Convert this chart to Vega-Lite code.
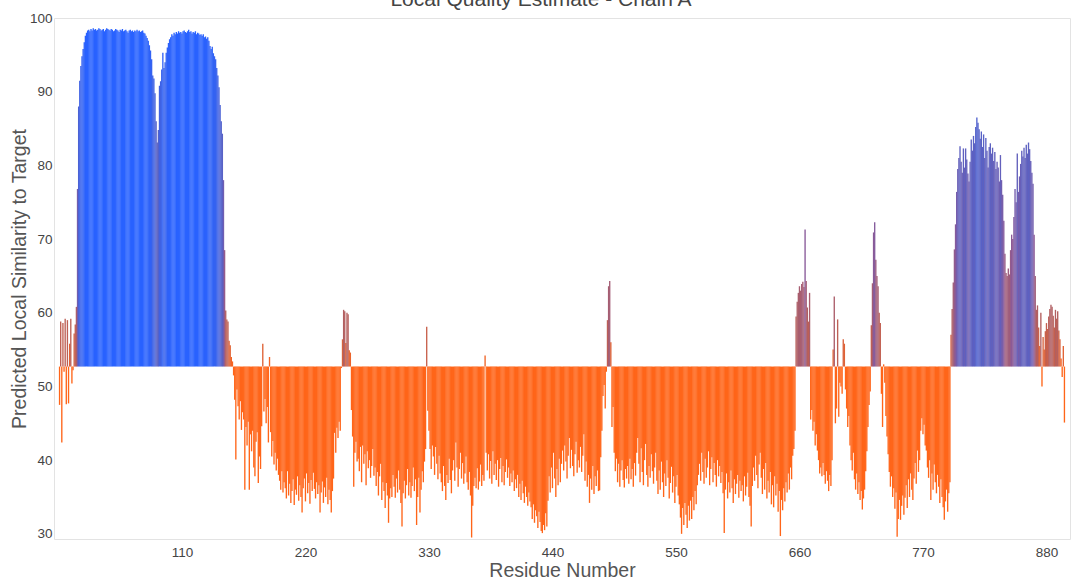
{
"$schema": "https://vega.github.io/schema/vega-lite/v6.json",
"width": 1016, "height": 521,
"autosize": {"type": "none"},
"padding": {"left": 54, "top": 18, "right": 2, "bottom": 42},
"background": "white",
"title": {"text": "Local Quality Estimate - Chain A", "fontSize": 21, "font": "Liberation Sans", "fontWeight": "normal", "color": "#444", "offset": 4, "dx": -21, "dy": 3},
"config": {"view": {"stroke": "#e3e3e3", "strokeWidth": 1}, "font": "Liberation Sans"},
"data": {"values": [
{"r":1,"v":47.5},{"r":2,"v":58.8},{"r":3,"v":42.4},{"r":4,"v":58.6},{"r":5,"v":52.0},{"r":6,"v":59.2},{"r":7,"v":47.6},{"r":8,"v":59.0},{"r":9,"v":47.7},{"r":10,"v":55.8},
{"r":11,"v":59.2},{"r":12,"v":50.4},{"r":13,"v":52.2},{"r":14,"v":57.2},{"r":15,"v":58.4},{"r":16,"v":60.8},{"r":17,"v":76.8},{"r":18,"v":88.0},{"r":19,"v":91.5},{"r":20,"v":93.5},
{"r":21,"v":94.8},{"r":22,"v":95.8},{"r":23,"v":96.7},{"r":24,"v":97.6},{"r":25,"v":98.0},{"r":26,"v":98.3},{"r":27,"v":98.4},{"r":28,"v":98.2},{"r":29,"v":98.5},{"r":30,"v":98.3},
{"r":31,"v":98.6},{"r":32,"v":98.4},{"r":33,"v":98.5},{"r":34,"v":98.3},{"r":35,"v":98.4},{"r":36,"v":98.6},{"r":37,"v":98.5},{"r":38,"v":98.3},{"r":39,"v":98.4},{"r":40,"v":98.5},
{"r":41,"v":98.2},{"r":42,"v":98.4},{"r":43,"v":98.6},{"r":44,"v":98.5},{"r":45,"v":98.4},{"r":46,"v":98.3},{"r":47,"v":98.5},{"r":48,"v":98.4},{"r":49,"v":98.2},{"r":50,"v":98.3},
{"r":51,"v":98.5},{"r":52,"v":98.4},{"r":53,"v":98.3},{"r":54,"v":98.1},{"r":55,"v":98.4},{"r":56,"v":98.3},{"r":57,"v":98.5},{"r":58,"v":98.2},{"r":59,"v":98.3},{"r":60,"v":98.4},
{"r":61,"v":98.2},{"r":62,"v":98.0},{"r":63,"v":98.3},{"r":64,"v":98.4},{"r":65,"v":98.2},{"r":66,"v":98.3},{"r":67,"v":98.1},{"r":68,"v":98.3},{"r":69,"v":98.2},{"r":70,"v":98.4},
{"r":71,"v":98.2},{"r":72,"v":98.3},{"r":73,"v":98.1},{"r":74,"v":98.2},{"r":75,"v":98.3},{"r":76,"v":98.0},{"r":77,"v":97.9},{"r":78,"v":97.6},{"r":79,"v":97.3},{"r":80,"v":96.9},
{"r":81,"v":96.3},{"r":82,"v":95.6},{"r":83,"v":94.4},{"r":84,"v":92.2},{"r":85,"v":91.8},{"r":86,"v":89.8},{"r":87,"v":86.0},{"r":88,"v":83.1},{"r":89,"v":84.8},{"r":90,"v":90.8},
{"r":91,"v":91.4},{"r":92,"v":93.0},{"r":93,"v":95.3},{"r":94,"v":93.2},{"r":95,"v":94.0},{"r":96,"v":95.3},{"r":97,"v":96.0},{"r":98,"v":96.6},{"r":99,"v":97.1},{"r":100,"v":97.4},
{"r":101,"v":97.8},{"r":102,"v":97.6},{"r":103,"v":98.0},{"r":104,"v":97.8},{"r":105,"v":98.1},{"r":106,"v":97.9},{"r":107,"v":98.2},{"r":108,"v":98.0},{"r":109,"v":98.1},{"r":110,"v":97.9},
{"r":111,"v":98.2},{"r":112,"v":98.3},{"r":113,"v":98.1},{"r":114,"v":98.0},{"r":115,"v":98.2},{"r":116,"v":98.4},{"r":117,"v":98.1},{"r":118,"v":98.2},{"r":119,"v":97.9},{"r":120,"v":98.1},
{"r":121,"v":98.0},{"r":122,"v":98.2},{"r":123,"v":97.8},{"r":124,"v":98.0},{"r":125,"v":97.9},{"r":126,"v":97.7},{"r":127,"v":97.8},{"r":128,"v":97.6},{"r":129,"v":97.8},{"r":130,"v":97.4},
{"r":131,"v":97.5},{"r":132,"v":97.2},{"r":133,"v":97.4},{"r":134,"v":96.9},{"r":135,"v":96.2},{"r":136,"v":95.8},{"r":137,"v":96.1},{"r":138,"v":95.2},{"r":139,"v":94.8},{"r":140,"v":94.4},
{"r":141,"v":93.2},{"r":142,"v":92.2},{"r":143,"v":90.6},{"r":144,"v":88.2},{"r":145,"v":86.0},{"r":146,"v":84.3},{"r":147,"v":78.0},{"r":148,"v":68.5},{"r":149,"v":60.3},{"r":150,"v":59.1},
{"r":151,"v":58.8},{"r":152,"v":56.2},{"r":153,"v":55.6},{"r":154,"v":54.0},{"r":155,"v":53.4},{"r":156,"v":51.5},{"r":157,"v":48.2},{"r":158,"v":40.1},{"r":159,"v":49.6},{"r":160,"v":47.3},
{"r":161,"v":45.5},{"r":162,"v":48.0},{"r":163,"v":44.1},{"r":164,"v":46.5},{"r":165,"v":45.5},{"r":166,"v":36.0},{"r":167,"v":44.5},{"r":168,"v":42.0},{"r":169,"v":45.2},{"r":170,"v":36.0},
{"r":171,"v":43.5},{"r":172,"v":41.2},{"r":173,"v":44.0},{"r":174,"v":39.0},{"r":175,"v":37.8},{"r":176,"v":42.5},{"r":177,"v":43.8},{"r":178,"v":36.9},{"r":179,"v":40.5},{"r":180,"v":38.8},
{"r":181,"v":44.6},{"r":182,"v":55.8},{"r":183,"v":46.6},{"r":184,"v":48.3},{"r":185,"v":45.0},{"r":186,"v":47.2},{"r":187,"v":42.4},{"r":188,"v":54.0},{"r":189,"v":43.8},{"r":190,"v":40.5},
{"r":191,"v":42.6},{"r":192,"v":39.4},{"r":193,"v":41.0},{"r":194,"v":38.6},{"r":195,"v":40.2},{"r":196,"v":38.0},{"r":197,"v":37.2},{"r":198,"v":36.0},{"r":199,"v":38.5},{"r":200,"v":35.6},
{"r":201,"v":37.0},{"r":202,"v":36.2},{"r":203,"v":34.8},{"r":204,"v":38.5},{"r":205,"v":35.2},{"r":206,"v":36.8},{"r":207,"v":34.2},{"r":208,"v":35.8},{"r":209,"v":37.4},{"r":210,"v":33.9},
{"r":211,"v":36.0},{"r":212,"v":35.3},{"r":213,"v":37.8},{"r":214,"v":34.5},{"r":215,"v":36.6},{"r":216,"v":35.0},{"r":217,"v":32.9},{"r":218,"v":36.2},{"r":219,"v":37.5},{"r":220,"v":34.4},
{"r":221,"v":38.2},{"r":222,"v":35.5},{"r":223,"v":36.9},{"r":224,"v":34.1},{"r":225,"v":37.3},{"r":226,"v":35.8},{"r":227,"v":38.3},{"r":228,"v":36.1},{"r":229,"v":34.8},{"r":230,"v":37.0},
{"r":231,"v":35.4},{"r":232,"v":36.6},{"r":233,"v":32.9},{"r":234,"v":35.6},{"r":235,"v":37.1},{"r":236,"v":34.2},{"r":237,"v":36.3},{"r":238,"v":35.0},{"r":239,"v":37.6},{"r":240,"v":34.0},
{"r":241,"v":36.0},{"r":242,"v":34.6},{"r":243,"v":32.9},{"r":244,"v":35.8},{"r":245,"v":37.5},{"r":246,"v":43.7},{"r":247,"v":41.0},{"r":248,"v":44.4},{"r":249,"v":43.0},{"r":250,"v":45.2},
{"r":251,"v":44.0},{"r":252,"v":52.5},{"r":253,"v":56.4},{"r":254,"v":60.4},{"r":255,"v":60.2},{"r":256,"v":55.9},{"r":257,"v":60.0},{"r":258,"v":59.8},{"r":259,"v":54.9},{"r":260,"v":54.6},
{"r":261,"v":46.8},{"r":262,"v":43.2},{"r":263,"v":36.4},{"r":264,"v":41.0},{"r":265,"v":42.5},{"r":266,"v":39.8},{"r":267,"v":40.2},{"r":268,"v":38.5},{"r":269,"v":41.8},{"r":270,"v":37.0},
{"r":271,"v":42.0},{"r":272,"v":39.5},{"r":273,"v":40.8},{"r":274,"v":36.6},{"r":275,"v":41.2},{"r":276,"v":38.9},{"r":277,"v":40.0},{"r":278,"v":37.6},{"r":279,"v":39.2},{"r":280,"v":41.5},
{"r":281,"v":37.9},{"r":282,"v":39.0},{"r":283,"v":36.5},{"r":284,"v":38.4},{"r":285,"v":35.2},{"r":286,"v":37.8},{"r":287,"v":39.5},{"r":288,"v":34.6},{"r":289,"v":37.0},{"r":290,"v":35.8},
{"r":291,"v":33.5},{"r":292,"v":36.9},{"r":293,"v":35.2},{"r":294,"v":31.5},{"r":295,"v":34.8},{"r":296,"v":36.2},{"r":297,"v":35.0},{"r":298,"v":38.0},{"r":299,"v":36.4},{"r":300,"v":34.9},
{"r":301,"v":37.5},{"r":302,"v":35.6},{"r":303,"v":38.6},{"r":304,"v":36.0},{"r":305,"v":34.2},{"r":306,"v":31.0},{"r":307,"v":35.5},{"r":308,"v":37.2},{"r":309,"v":34.8},{"r":310,"v":36.6},
{"r":311,"v":38.8},{"r":312,"v":35.2},{"r":313,"v":37.0},{"r":314,"v":34.9},{"r":315,"v":36.5},{"r":316,"v":39.0},{"r":317,"v":35.8},{"r":318,"v":37.4},{"r":319,"v":31.2},{"r":320,"v":35.0},
{"r":321,"v":37.6},{"r":322,"v":32.9},{"r":323,"v":36.0},{"r":324,"v":38.5},{"r":325,"v":37.0},{"r":326,"v":39.8},{"r":327,"v":41.5},{"r":328,"v":58.1},{"r":329,"v":46.7},{"r":330,"v":44.0},
{"r":331,"v":41.5},{"r":332,"v":38.8},{"r":333,"v":42.0},{"r":334,"v":40.5},{"r":335,"v":38.0},{"r":336,"v":41.8},{"r":337,"v":39.5},{"r":338,"v":37.4},{"r":339,"v":40.6},{"r":340,"v":38.2},
{"r":341,"v":37.0},{"r":342,"v":35.8},{"r":343,"v":39.2},{"r":344,"v":36.5},{"r":345,"v":34.6},{"r":346,"v":38.0},{"r":347,"v":36.9},{"r":348,"v":40.2},{"r":349,"v":37.3},{"r":350,"v":35.5},
{"r":351,"v":38.6},{"r":352,"v":40.0},{"r":353,"v":37.2},{"r":354,"v":42.4},{"r":355,"v":39.0},{"r":356,"v":36.4},{"r":357,"v":38.8},{"r":358,"v":41.0},{"r":359,"v":37.5},{"r":360,"v":39.6},
{"r":361,"v":36.8},{"r":362,"v":38.2},{"r":363,"v":40.5},{"r":364,"v":37.0},{"r":365,"v":36.0},{"r":366,"v":38.4},{"r":367,"v":35.2},{"r":368,"v":29.5},{"r":369,"v":33.8},{"r":370,"v":36.5},
{"r":371,"v":37.6},{"r":372,"v":36.2},{"r":373,"v":38.9},{"r":374,"v":36.0},{"r":375,"v":37.1},{"r":376,"v":39.4},{"r":377,"v":36.5},{"r":378,"v":38.0},{"r":379,"v":37.2},{"r":380,"v":54.2},
{"r":381,"v":41.0},{"r":382,"v":38.6},{"r":383,"v":40.8},{"r":384,"v":37.5},{"r":385,"v":39.9},{"r":386,"v":36.8},{"r":387,"v":41.2},{"r":388,"v":38.0},{"r":389,"v":39.5},{"r":390,"v":37.3},
{"r":391,"v":40.0},{"r":392,"v":36.4},{"r":393,"v":38.8},{"r":394,"v":40.3},{"r":395,"v":37.0},{"r":396,"v":39.2},{"r":397,"v":36.6},{"r":398,"v":38.4},{"r":399,"v":40.1},{"r":400,"v":37.6},
{"r":401,"v":39.0},{"r":402,"v":36.5},{"r":403,"v":38.2},{"r":404,"v":37.0},{"r":405,"v":38.6},{"r":406,"v":35.8},{"r":407,"v":37.4},{"r":408,"v":36.2},{"r":409,"v":38.0},{"r":410,"v":35.0},
{"r":411,"v":36.8},{"r":412,"v":34.6},{"r":413,"v":37.2},{"r":414,"v":35.5},{"r":415,"v":34.2},{"r":416,"v":36.4},{"r":417,"v":35.0},{"r":418,"v":33.8},{"r":419,"v":35.6},{"r":420,"v":34.4},
{"r":421,"v":33.6},{"r":422,"v":32.0},{"r":423,"v":34.0},{"r":424,"v":31.5},{"r":425,"v":33.2},{"r":426,"v":32.4},{"r":427,"v":30.8},{"r":428,"v":33.0},{"r":429,"v":31.6},{"r":430,"v":30.4},
{"r":431,"v":30.1},{"r":432,"v":31.2},{"r":433,"v":30.5},{"r":434,"v":32.8},{"r":435,"v":31.0},{"r":436,"v":34.5},{"r":437,"v":37.8},{"r":438,"v":35.6},{"r":439,"v":39.0},{"r":440,"v":36.2},
{"r":441,"v":41.0},{"r":442,"v":37.5},{"r":443,"v":35.0},{"r":444,"v":38.8},{"r":445,"v":36.6},{"r":446,"v":40.2},{"r":447,"v":37.0},{"r":448,"v":39.5},{"r":449,"v":41.3},{"r":450,"v":38.6},
{"r":451,"v":42.0},{"r":452,"v":39.8},{"r":453,"v":37.5},{"r":454,"v":40.6},{"r":455,"v":43.0},{"r":456,"v":38.9},{"r":457,"v":41.4},{"r":458,"v":39.2},{"r":459,"v":37.8},{"r":460,"v":40.8},
{"r":461,"v":42.5},{"r":462,"v":38.3},{"r":463,"v":40.0},{"r":464,"v":39.0},{"r":465,"v":41.8},{"r":466,"v":38.4},{"r":467,"v":40.6},{"r":468,"v":43.5},{"r":469,"v":37.2},{"r":470,"v":39.8},
{"r":471,"v":36.4},{"r":472,"v":38.0},{"r":473,"v":34.2},{"r":474,"v":37.5},{"r":475,"v":36.0},{"r":476,"v":39.2},{"r":477,"v":35.4},{"r":478,"v":37.8},{"r":479,"v":36.5},{"r":480,"v":38.6},
{"r":481,"v":35.8},{"r":482,"v":35.9},{"r":483,"v":40.4},{"r":484,"v":44.0},{"r":485,"v":48.7},{"r":486,"v":50.2},{"r":487,"v":47.0},{"r":488,"v":52.0},{"r":489,"v":59.0},{"r":490,"v":63.6},
{"r":491,"v":64.3},{"r":492,"v":56.0},{"r":493,"v":44.5},{"r":494,"v":47.2},{"r":495,"v":41.0},{"r":496,"v":38.5},{"r":497,"v":40.2},{"r":498,"v":37.0},{"r":499,"v":39.5},{"r":500,"v":36.4},
{"r":501,"v":38.6},{"r":502,"v":40.0},{"r":503,"v":37.3},{"r":504,"v":36.3},{"r":505,"v":38.8},{"r":506,"v":37.5},{"r":507,"v":39.2},{"r":508,"v":36.8},{"r":509,"v":40.2},{"r":510,"v":37.4},
{"r":511,"v":38.8},{"r":512,"v":36.4},{"r":513,"v":39.6},{"r":514,"v":37.9},{"r":515,"v":41.0},{"r":516,"v":43.0},{"r":517,"v":39.5},{"r":518,"v":37.0},{"r":519,"v":41.6},{"r":520,"v":38.4},
{"r":521,"v":36.6},{"r":522,"v":40.0},{"r":523,"v":42.2},{"r":524,"v":38.0},{"r":525,"v":36.4},{"r":526,"v":39.2},{"r":527,"v":37.6},{"r":528,"v":40.8},{"r":529,"v":38.5},{"r":530,"v":36.8},
{"r":531,"v":39.0},{"r":532,"v":41.0},{"r":533,"v":37.2},{"r":534,"v":35.4},{"r":535,"v":38.6},{"r":536,"v":36.0},{"r":537,"v":39.8},{"r":538,"v":37.0},{"r":539,"v":35.0},{"r":540,"v":38.2},
{"r":541,"v":36.5},{"r":542,"v":40.0},{"r":543,"v":37.6},{"r":544,"v":34.8},{"r":545,"v":36.9},{"r":546,"v":39.1},{"r":547,"v":35.6},{"r":548,"v":37.8},{"r":549,"v":34.2},{"r":550,"v":36.4},
{"r":551,"v":38.0},{"r":552,"v":35.2},{"r":553,"v":34.0},{"r":554,"v":32.2},{"r":555,"v":30.0},{"r":556,"v":33.5},{"r":557,"v":31.2},{"r":558,"v":34.2},{"r":559,"v":32.6},{"r":560,"v":30.8},
{"r":561,"v":33.8},{"r":562,"v":31.8},{"r":563,"v":34.5},{"r":564,"v":32.0},{"r":565,"v":35.0},{"r":566,"v":33.2},{"r":567,"v":35.8},{"r":568,"v":34.0},{"r":569,"v":36.6},{"r":570,"v":38.0},
{"r":571,"v":39.5},{"r":572,"v":37.2},{"r":573,"v":41.0},{"r":574,"v":38.4},{"r":575,"v":36.8},{"r":576,"v":40.2},{"r":577,"v":37.6},{"r":578,"v":39.0},{"r":579,"v":41.2},{"r":580,"v":36.6},
{"r":581,"v":38.8},{"r":582,"v":40.4},{"r":583,"v":37.0},{"r":584,"v":39.6},{"r":585,"v":38.0},{"r":586,"v":36.4},{"r":587,"v":40.0},{"r":588,"v":37.8},{"r":589,"v":39.2},{"r":590,"v":36.9},
{"r":591,"v":38.4},{"r":592,"v":35.5},{"r":593,"v":30.1},{"r":594,"v":36.0},{"r":595,"v":38.2},{"r":596,"v":34.8},{"r":597,"v":37.0},{"r":598,"v":35.6},{"r":599,"v":38.6},{"r":600,"v":36.2},
{"r":601,"v":34.2},{"r":602,"v":37.4},{"r":603,"v":35.4},{"r":604,"v":36.8},{"r":605,"v":38.0},{"r":606,"v":34.9},{"r":607,"v":37.2},{"r":608,"v":35.8},{"r":609,"v":36.6},{"r":610,"v":34.4},
{"r":611,"v":37.8},{"r":612,"v":35.2},{"r":613,"v":36.4},{"r":614,"v":38.3},{"r":615,"v":35.0},{"r":616,"v":33.8},{"r":617,"v":31.0},{"r":618,"v":36.5},{"r":619,"v":39.0},{"r":620,"v":37.2},
{"r":621,"v":40.6},{"r":622,"v":38.0},{"r":623,"v":36.2},{"r":624,"v":39.4},{"r":625,"v":41.0},{"r":626,"v":37.6},{"r":627,"v":35.4},{"r":628,"v":38.8},{"r":629,"v":36.0},{"r":630,"v":39.6},
{"r":631,"v":34.8},{"r":632,"v":37.2},{"r":633,"v":35.6},{"r":634,"v":38.4},{"r":635,"v":34.0},{"r":636,"v":36.6},{"r":637,"v":33.6},{"r":638,"v":37.8},{"r":639,"v":35.2},{"r":640,"v":36.8},
{"r":641,"v":33.0},{"r":642,"v":35.8},{"r":643,"v":29.7},{"r":644,"v":34.6},{"r":645,"v":33.2},{"r":646,"v":36.2},{"r":647,"v":34.4},{"r":648,"v":37.0},{"r":649,"v":35.6},{"r":650,"v":38.2},
{"r":651,"v":36.0},{"r":652,"v":39.0},{"r":653,"v":37.4},{"r":654,"v":40.6},{"r":655,"v":41.5},{"r":656,"v":44.0},{"r":657,"v":59.5},{"r":658,"v":61.5},{"r":659,"v":62.7},{"r":660,"v":63.6},
{"r":661,"v":63.0},{"r":662,"v":63.9},{"r":663,"v":64.2},{"r":664,"v":63.5},{"r":665,"v":71.3},{"r":666,"v":64.3},{"r":667,"v":60.7},{"r":668,"v":58.8},{"r":669,"v":62.7},{"r":670,"v":45.5},
{"r":671,"v":46.8},{"r":672,"v":44.0},{"r":673,"v":45.2},{"r":674,"v":42.0},{"r":675,"v":43.5},{"r":676,"v":41.3},{"r":677,"v":40.0},{"r":678,"v":38.2},{"r":679,"v":39.0},{"r":680,"v":37.8},
{"r":681,"v":39.6},{"r":682,"v":38.0},{"r":683,"v":36.8},{"r":684,"v":38.5},{"r":685,"v":37.2},{"r":686,"v":35.8},{"r":687,"v":38.0},{"r":688,"v":36.5},{"r":689,"v":40.0},{"r":690,"v":55.0},
{"r":691,"v":62.2},{"r":692,"v":45.0},{"r":693,"v":47.0},{"r":694,"v":59.1},{"r":695,"v":45.9},{"r":696,"v":50.5},{"r":697,"v":50.0},{"r":698,"v":49.0},{"r":699,"v":56.4},{"r":700,"v":55.8},
{"r":701,"v":49.6},{"r":702,"v":47.0},{"r":703,"v":44.5},{"r":704,"v":46.0},{"r":705,"v":42.0},{"r":706,"v":40.0},{"r":707,"v":38.6},{"r":708,"v":41.0},{"r":709,"v":37.4},{"r":710,"v":36.0},
{"r":711,"v":38.2},{"r":712,"v":35.4},{"r":713,"v":37.0},{"r":714,"v":34.6},{"r":715,"v":35.8},{"r":716,"v":33.3},{"r":717,"v":34.8},{"r":718,"v":36.0},{"r":719,"v":38.5},{"r":720,"v":41.2},
{"r":721,"v":44.5},{"r":722,"v":47.5},{"r":723,"v":49.3},{"r":724,"v":58.3},{"r":725,"v":64.0},{"r":726,"v":70.9},{"r":727,"v":72.3},{"r":728,"v":67.2},{"r":729,"v":65.0},{"r":730,"v":63.6},
{"r":731,"v":60.0},{"r":732,"v":58.6},{"r":733,"v":49.0},{"r":734,"v":44.5},{"r":735,"v":53.0},{"r":736,"v":50.5},{"r":737,"v":46.0},{"r":738,"v":43.2},{"r":739,"v":40.8},{"r":740,"v":38.4},
{"r":741,"v":36.4},{"r":742,"v":37.8},{"r":743,"v":35.0},{"r":744,"v":36.2},{"r":745,"v":33.4},{"r":746,"v":35.6},{"r":747,"v":29.6},{"r":748,"v":32.0},{"r":749,"v":34.6},{"r":750,"v":31.9},
{"r":751,"v":33.8},{"r":752,"v":35.2},{"r":753,"v":32.6},{"r":754,"v":34.9},{"r":755,"v":36.6},{"r":756,"v":33.5},{"r":757,"v":37.4},{"r":758,"v":35.0},{"r":759,"v":38.2},{"r":760,"v":36.0},
{"r":761,"v":34.6},{"r":762,"v":37.5},{"r":763,"v":39.6},{"r":764,"v":36.8},{"r":765,"v":41.3},{"r":766,"v":38.4},{"r":767,"v":40.0},{"r":768,"v":44.0},{"r":769,"v":45.7},{"r":770,"v":43.5},
{"r":771,"v":44.8},{"r":772,"v":42.0},{"r":773,"v":41.3},{"r":774,"v":39.0},{"r":775,"v":37.6},{"r":776,"v":40.0},{"r":777,"v":34.6},{"r":778,"v":38.2},{"r":779,"v":36.0},{"r":780,"v":39.4},
{"r":781,"v":37.0},{"r":782,"v":35.5},{"r":783,"v":38.0},{"r":784,"v":36.4},{"r":785,"v":34.2},{"r":786,"v":37.4},{"r":787,"v":35.0},{"r":788,"v":33.6},{"r":789,"v":31.9},{"r":790,"v":34.4},
{"r":791,"v":36.0},{"r":792,"v":33.0},{"r":793,"v":35.5},{"r":794,"v":37.0},{"r":795,"v":57.0},{"r":796,"v":60.5},{"r":797,"v":64.1},{"r":798,"v":68.6},{"r":799,"v":72.0},{"r":800,"v":76.4},
{"r":801,"v":79.5},{"r":802,"v":81.0},{"r":803,"v":82.6},{"r":804,"v":80.5},{"r":805,"v":79.0},{"r":806,"v":82.3},{"r":807,"v":79.7},{"r":808,"v":82.3},{"r":809,"v":80.8},{"r":810,"v":78.9},
{"r":811,"v":77.8},{"r":812,"v":80.5},{"r":813,"v":83.5},{"r":814,"v":82.0},{"r":815,"v":84.0},{"r":816,"v":83.0},{"r":817,"v":85.2},{"r":818,"v":86.5},{"r":819,"v":85.8},{"r":820,"v":84.9},
{"r":821,"v":83.6},{"r":822,"v":84.6},{"r":823,"v":82.5},{"r":824,"v":84.2},{"r":825,"v":81.0},{"r":826,"v":83.7},{"r":827,"v":82.0},{"r":828,"v":79.7},{"r":829,"v":82.5},{"r":830,"v":83.0},
{"r":831,"v":81.6},{"r":832,"v":82.4},{"r":833,"v":80.6},{"r":834,"v":81.8},{"r":835,"v":79.5},{"r":836,"v":80.5},{"r":837,"v":79.7},{"r":838,"v":77.8},{"r":839,"v":81.4},{"r":840,"v":78.0},
{"r":841,"v":76.0},{"r":842,"v":72.5},{"r":843,"v":68.0},{"r":844,"v":65.4},{"r":845,"v":65.0},{"r":846,"v":66.0},{"r":847,"v":65.2},{"r":848,"v":68.5},{"r":849,"v":70.6},{"r":850,"v":70.0},
{"r":851,"v":73.0},{"r":852,"v":76.8},{"r":853,"v":75.0},{"r":854,"v":81.6},{"r":855,"v":76.4},{"r":856,"v":78.5},{"r":857,"v":80.2},{"r":858,"v":82.0},{"r":859,"v":81.2},{"r":860,"v":82.4},
{"r":861,"v":81.0},{"r":862,"v":82.8},{"r":863,"v":81.6},{"r":864,"v":83.1},{"r":865,"v":82.2},{"r":866,"v":80.6},{"r":867,"v":79.0},{"r":868,"v":77.5},{"r":869,"v":70.6},{"r":870,"v":65.0},
{"r":871,"v":60.4},{"r":872,"v":61.0},{"r":873,"v":58.0},{"r":874,"v":55.5},{"r":875,"v":60.0},{"r":876,"v":50.0},{"r":877,"v":56.7},{"r":878,"v":55.0},{"r":879,"v":57.5},{"r":880,"v":58.6},
{"r":881,"v":57.8},{"r":882,"v":59.5},{"r":883,"v":60.5},{"r":884,"v":61.1},{"r":885,"v":60.8},{"r":886,"v":59.6},{"r":887,"v":58.0},{"r":888,"v":60.4},{"r":889,"v":59.2},{"r":890,"v":60.2},
{"r":891,"v":57.6},{"r":892,"v":56.4},{"r":893,"v":53.8},{"r":894,"v":51.3},{"r":895,"v":55.5},{"r":896,"v":45.1}
]},
"mark": {"type": "bar", "size": 1.35, "opacity": 1},
"encoding": {
  "x": {"field": "r", "type": "quantitative", "scale": {"domain": [0.5, 896.5], "nice": false, "zero": false},
        "axis": {"values": [110, 220, 330, 440, 550, 660, 770, 880], "title": "Residue Number", "grid": false, "ticks": false, "domain": false,
                 "labelFontSize": 13.5, "labelColor": "#444", "labelPadding": 6, "titleFontSize": 19.5, "titleColor": "#555", "titleFontWeight": "normal", "titlePadding": 3}},
  "y": {"field": "v", "type": "quantitative", "scale": {"domain": [29.3, 100], "nice": false, "zero": false},
        "axis": {"values": [30, 40, 50, 60, 70, 80, 90, 100], "title": "Predicted Local Similarity to Target", "grid": false, "ticks": false, "domain": false,
                 "labelFontSize": 13.5, "labelColor": "#444", "labelPadding": 2, "titleFontSize": 19.5, "titleColor": "#555", "titleFontWeight": "normal", "titlePadding": 0}},
  "y2": {"datum": 52.7},
  "color": {"field": "v", "type": "quantitative", "legend": null,
            "scale": {"domain": [52.7, 60, 71, 85, 98], "range": ["#ff6519", "#b45f5e", "#8a5a98", "#5562c8", "#2962ff"], "interpolate": "rgb", "clamp": true}}
}
}
